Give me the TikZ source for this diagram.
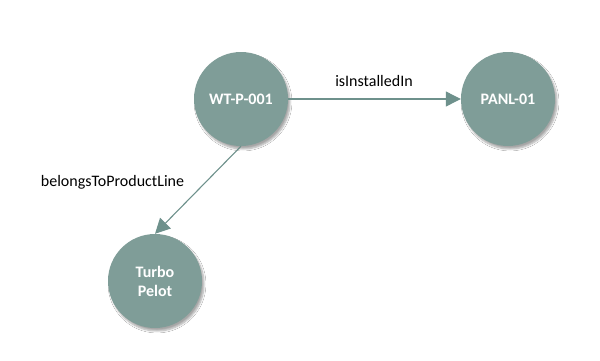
\documentclass[tikz,border=0pt]{standalone}
\usepackage{fontspec}
\setmainfont{Carlito}
\usetikzlibrary{arrows.meta,shadows.blur}
\definecolor{nodefill}{RGB}{127,157,152}
\definecolor{edgecol}{RGB}{110,145,140}
\begin{document}
\begin{tikzpicture}[x=1pt,y=-1pt,
  entity/.style={circle,fill=nodefill,minimum size=94pt,inner sep=0pt,
    text=white,font=\fontsize{16}{19}\selectfont\bfseries,align=center,
    blur shadow={shadow xshift=2pt,shadow yshift=-3pt,shadow blur steps=6,shadow opacity=35}},
  rel/.style={draw=edgecol,line width=1.1pt,-{Triangle[length=15pt,width=15pt]}},
  lbl/.style={font=\fontsize{16}{19}\selectfont,anchor=base,inner sep=0pt}]
\useasboundingbox (0,0) rectangle (600,360);
\fill[white] (0,0) rectangle (600,360);
\node[entity] (wt) at (241,99) {WT-P-001};
\node[entity] (panl) at (508,99) {PANL-01};
\node[entity] (turbo) at (155,281) {Turbo\\Pelot};
\draw[rel] (wt) -- (panl);
\draw[rel] (wt.south) -- (turbo.north);
\node[lbl] (l1) at (374,86.5) {isInstalledIn};
\node[lbl] (l2) at (112.5,186.5) {belongsToProductLine};
\end{tikzpicture}
\end{document}
